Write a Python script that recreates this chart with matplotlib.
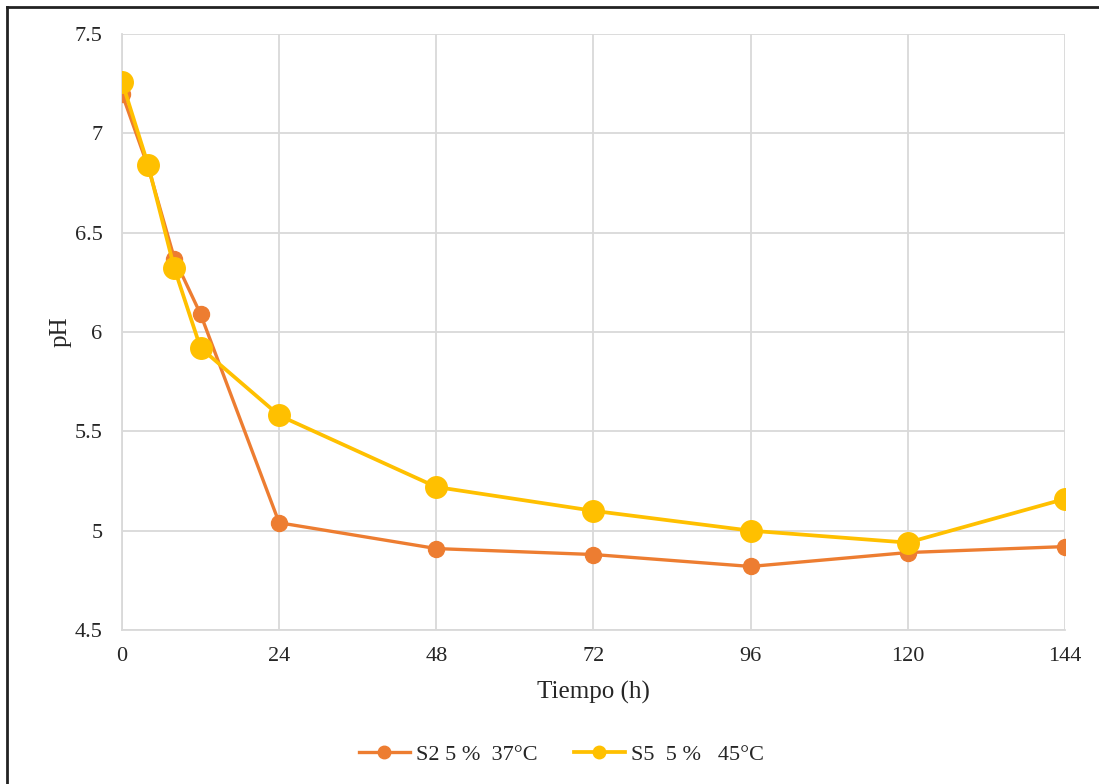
import matplotlib
matplotlib.use("Agg")
import matplotlib.pyplot as plt
from matplotlib.lines import Line2D

plt.rcParams["font.family"] = ["Liberation Serif", "DejaVu Serif"]

hours = [0, 4, 8, 12, 24, 48, 72, 96, 120, 144]
ph_s2 = [7.20, 6.83, 6.37, 6.09, 5.04, 4.91, 4.88, 4.82, 4.89, 4.92]
ph_s5 = [7.26, 6.84, 6.32, 5.92, 5.58, 5.22, 5.10, 5.00, 4.94, 5.16]

x_ticks = [0, 24, 48, 72, 96, 120, 144]
y_ticks = [4.5, 5, 5.5, 6, 6.5, 7, 7.5]
y_labels = ["4.5", "5", "5.5", "6", "6.5", "7", "7.5"]

ORANGE = "#ED7D31"
YELLOW = "#FFC000"
GRID = "#d9d9d9"
TEXT = "#262626"

fig = plt.figure(figsize=(10.99, 7.84), dpi=100)
ax = fig.add_axes([0.111, 0.1964, 0.858, 0.7602])

ax.plot(hours, ph_s2, color=ORANGE, lw=2.4, marker="o", ms=11.5,
        zorder=3, solid_capstyle="round")
ax.plot(hours, ph_s5, color=YELLOW, lw=2.7, marker="o", ms=15.5,
        zorder=4, solid_capstyle="round")

ax.set_xlim(0, 144)
ax.set_ylim(4.5, 7.5)
ax.set_xticks(x_ticks)
ax.set_yticks(y_ticks)
ax.set_yticklabels(y_labels)
ax.grid(True, color=GRID, lw=1.3)
ax.set_axisbelow(True)
ax.tick_params(length=0, labelsize=16, colors=TEXT)
ax.tick_params(axis="x", pad=12)
ax.tick_params(axis="y", pad=14)
for name, spine in ax.spines.items():
    if name in ("left", "bottom"):
        spine.set_color(GRID)
        spine.set_linewidth(1.3)
    else:
        spine.set_visible(False)

ax.set_xlabel("Tiempo (h)", fontsize=18, color=TEXT, labelpad=11)
ax.set_ylabel("pH", fontsize=18, color=TEXT, labelpad=2)

handles = [
    Line2D([], [], color=ORANGE, lw=2.4, marker="o", ms=9),
    Line2D([], [], color=YELLOW, lw=2.7, marker="o", ms=9),
]
fig.legend(handles, ["S2 5 %  37°C", "S5  5 %   45°C"], loc="center",
           bbox_to_anchor=(0.511, 0.037), ncol=2, frameon=False, fontsize=16,
           handlelength=2.3, handletextpad=0.3, columnspacing=1.6,
           labelcolor=TEXT)

# chart frame (left and top edges)
fig.add_artist(Line2D([0.0065, 0.0065], [0.0, 0.991], color="#222222", lw=2,
                      transform=fig.transFigure))
fig.add_artist(Line2D([0.0065, 1.0], [0.991, 0.991], color="#222222", lw=2,
                      transform=fig.transFigure))

fig.savefig("out.png", dpi=100)
